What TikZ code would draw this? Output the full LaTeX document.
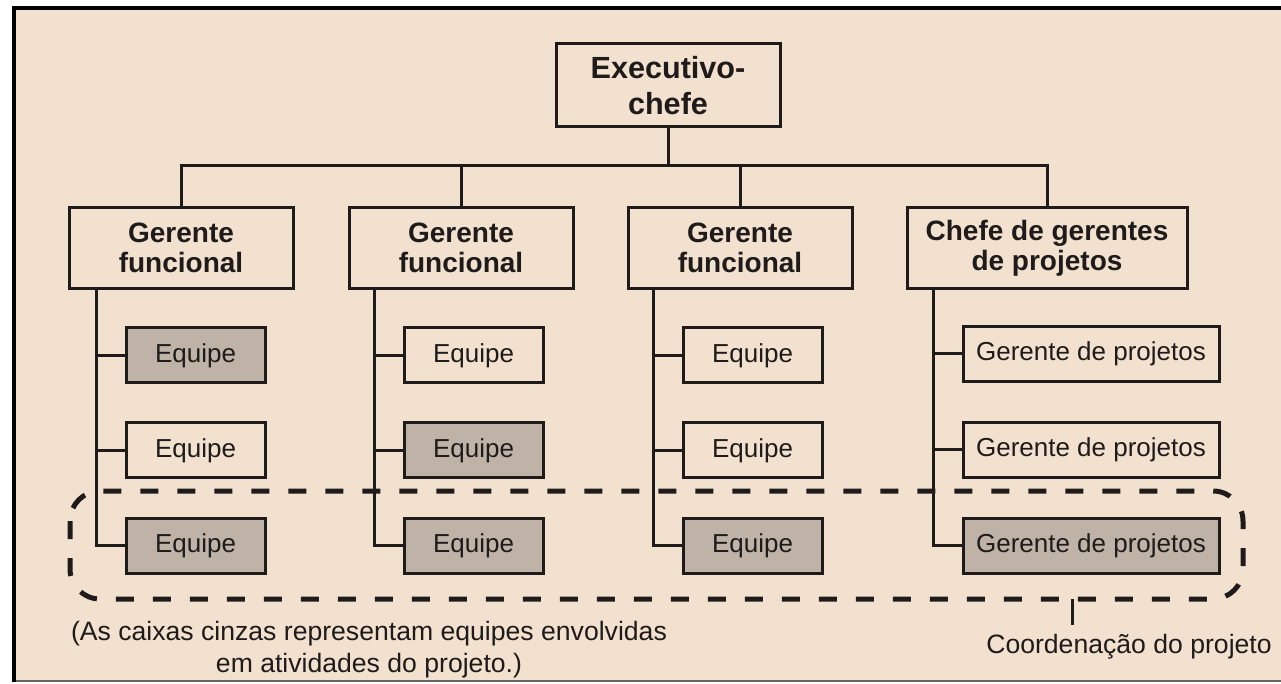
\documentclass[tikz,border=0pt]{standalone}
\usepackage{fontspec}
\setmainfont{Liberation Sans}
\usepackage{tikz}
\usetikzlibrary{positioning}

\definecolor{paper}{RGB}{243,225,207}
\definecolor{teamgray}{RGB}{190,179,166}
\definecolor{ink}{RGB}{30,27,26}

\tikzset{
  boss/.style={draw=ink,line width=1.5pt,fill=paper,align=center,inner sep=0pt,
    font=\fontsize{14}{15}\selectfont\bfseries,text=ink},
  team/.style={draw=ink,line width=1.5pt,fill=paper,inner sep=0pt,
    minimum width=69.5pt,minimum height=27.5pt,font=\fontsize{13}{15}\selectfont,text=ink},
  busy/.style={team,fill=teamgray},
  link/.style={draw=ink,line width=1.5pt},
  note/.style={align=center,text=ink,font=\fontsize{13.3}{16}\selectfont},
}

\begin{document}
\begin{tikzpicture}[x=0.5pt,y=-0.5pt]
    \useasboundingbox (0,0) rectangle (1281,684);
    \fill[white] (0,0) rectangle (1281,684);
    \fill[paper] (14,8) rectangle (1281,681);
    \draw[black!60,line width=1pt] (14,681) -- (1281,681);
    \draw[black,line width=1.6pt] (1281,8) -- (14,8) -- (14,682);

    % top of the chart
    \node[boss,minimum width=112pt,minimum height=41.5pt,
      font=\fontsize{15.3}{18}\selectfont\bfseries] (exec) at (668,85.5) {Executivo-\\chefe};
    \node[boss,minimum width=112pt,minimum height=40.5pt] (fm1) at (181,248) {Gerente\\funcional};
    \node[boss,minimum width=112pt,minimum height=40.5pt] (fm2) at (461,248) {Gerente\\funcional};
    \node[boss,minimum width=112pt,minimum height=40.5pt] (fm3) at (740,248) {Gerente\\funcional};
    \node[boss,minimum width=140pt,minimum height=40.5pt] (pmchief) at (1047,248) {Chefe de gerentes\\de projetos};
    \coordinate (bus) at (668,166);
    \draw[link] (exec) -- (bus);
    \draw[link] (fm1.north) |- (bus) -| (pmchief.north);
    \draw[link] (fm2.north) -- (fm2.north |- bus);
    \draw[link] (fm3.north) -- (fm3.north |- bus);

    % the group of project teams
    \draw[ink,line width=2.5pt,dash pattern=on 9pt off 9.5pt,rounded corners=15pt]
      (70,491) rectangle (1243,599);
    \coordinate (tick) at (1072,599);

    % teams under each manager
    \node[busy] (t11) at (195.5,355.5) {Equipe};
    \node[team] (t12) at (195.5,450.5) {Equipe};
    \node[busy] (t13) at (195.5,545.5) {Equipe};
    \node[team] (t21) at (473.5,355.5) {Equipe};
    \node[busy] (t22) at (473.5,450.5) {Equipe};
    \node[busy] (t23) at (473.5,545.5) {Equipe};
    \node[team] (t31) at (752.5,355.5) {Equipe};
    \node[team] (t32) at (752.5,450.5) {Equipe};
    \node[busy] (t33) at (752.5,545.5) {Equipe};
    \node[team,minimum width=128pt] (pm1) at (1091,354) {Gerente de projetos};
    \node[team,minimum width=128pt] (pm2) at (1091,450) {Gerente de projetos};
    \node[busy,minimum width=128pt] (pm3) at (1091,545.5) {Gerente de projetos};

    \draw[link] ([xshift=-14pt]t13.west |- fm1.south) |- (t13.west);
    \draw[link] ([xshift=-14pt]t11.west) -- (t11.west);
    \draw[link] ([xshift=-14pt]t12.west) -- (t12.west);
    \draw[link] ([xshift=-14pt]t23.west |- fm2.south) |- (t23.west);
    \draw[link] ([xshift=-14pt]t21.west) -- (t21.west);
    \draw[link] ([xshift=-14pt]t22.west) -- (t22.west);
    \draw[link] ([xshift=-14pt]t33.west |- fm3.south) |- (t33.west);
    \draw[link] ([xshift=-14pt]t31.west) -- (t31.west);
    \draw[link] ([xshift=-14pt]t32.west) -- (t32.west);
    \draw[link] ([xshift=-14pt]pm3.west |- pmchief.south) |- (pm3.west);
    \draw[link] ([xshift=-14pt]pm1.west) -- (pm1.west);
    \draw[link] ([xshift=-14pt]pm2.west) -- (pm2.west);

    % notes
    \draw[link] (tick) -- ++(0,26);
    \node[note] (coord) at (1129,647) {Coordenação do projeto};
    \node[note] (legend) at (369,650) {(As caixas cinzas representam equipes envolvidas\\em atividades do projeto.)};
  \end{tikzpicture}
\end{document}
